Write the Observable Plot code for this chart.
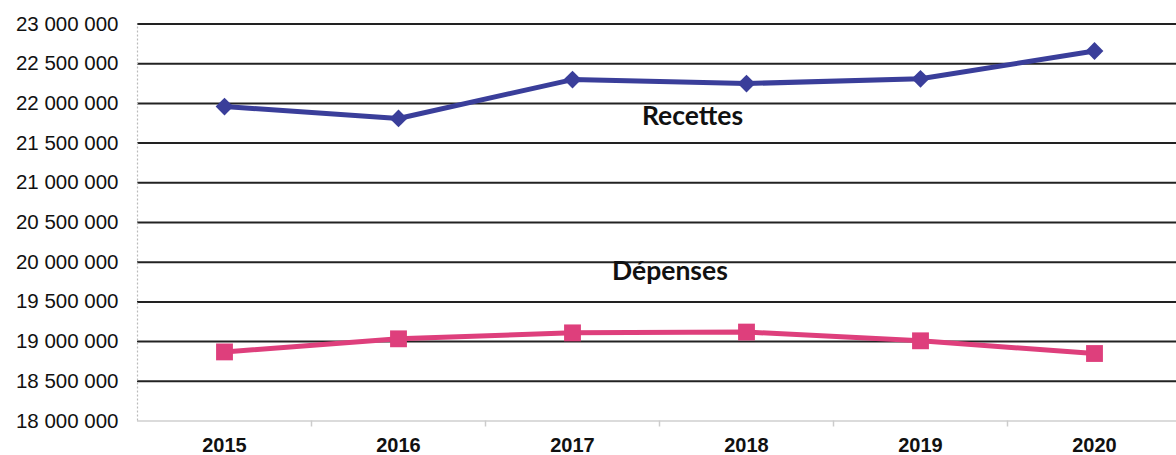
<!DOCTYPE html>
<html>
<head>
<meta charset="utf-8">
<script src="https://cdn.jsdelivr.net/npm/d3@7"></script>
<script src="https://cdn.jsdelivr.net/npm/@observablehq/plot@0.6"></script>
<style>
  html, body { margin: 0; padding: 0; background: #fff; }
  #chart svg { display: block; }
</style>
</head>
<body>
<div id="chart"></div>
<script>
const years = [2015, 2016, 2017, 2018, 2019, 2020];
const recettes = [21960000, 21810000, 22300000, 22250000, 22310000, 22660000];
const depenses = [18870000, 19035000, 19110000, 19120000, 19010000, 18850000];
const yTicks = [18000000, 18500000, 19000000, 19500000, 20000000, 20500000, 21000000, 21500000, 22000000, 22500000, 23000000];
const seriesLabels = [
  {name: "Recettes", year: 2017.69, value: 21835000},
  {name: "Dépenses", year: 2017.56, value: 19880000}
];
const boundaries = [2015.5, 2016.5, 2017.5, 2018.5, 2019.5];

const recData = years.map((y, i) => ({year: y, value: recettes[i]}));
const depData = years.map((y, i) => ({year: y, value: depenses[i]}));

const fmt = d => d3.format(",")(d).replace(/,/g, " ");

const chart = Plot.plot({
  width: 1176,
  height: 455,
  marginLeft: 137,
  marginRight: 0,
  marginTop: 23.5,
  marginBottom: 34.5,
  style: {background: "#fff", fontFamily: "'Liberation Sans', Arial, sans-serif"},
  x: {domain: [2014.5, 2020.5], range: [137, 1181], label: null},
  y: {domain: [18000000, 23000000], label: null},
  marks: [
    Plot.ruleY(yTicks.filter(d => d > 18000000), {stroke: "#222", strokeWidth: 2}),
    Plot.ruleY([18000000], {stroke: "#cfcfcf", strokeWidth: 1.5}),
    Plot.ruleX([2014.5], {y1: 18000000, y2: 23000000, stroke: "#bbb", strokeWidth: 1.2, strokeDasharray: "2,2"}),
    Plot.ruleX(boundaries, {x: d => d, y1: 18000000, y2: 18000000, insetBottom: -6, stroke: "#ccc", strokeWidth: 1.5}),
    Plot.line(recData, {x: "year", y: "value", stroke: "#3a3e9a", strokeWidth: 5}),
    Plot.dot(recData, {x: "year", y: "value", symbol: "diamond2", r: 8, fill: "#3a3e9a", stroke: "none"}),
    Plot.line(depData, {x: "year", y: "value", stroke: "#de3f7c", strokeWidth: 5}),
    Plot.dot(depData, {x: "year", y: "value", symbol: "square", r: 9.5, fill: "#de3f7c", stroke: "none"}),
    Plot.text(seriesLabels, {x: "year", y: "value", text: "name", fontSize: 26.5, fontWeight: "bold", fill: "#111", fontFamily: "Lato, 'Open Sans', sans-serif"}),
    Plot.axisY(yTicks, {tickSize: 0, tickPadding: 19, tickFormat: fmt, fontSize: 20.5, fill: "#111", label: null}),
    Plot.axisX(years, {tickSize: 0, tickPadding: 17, tickFormat: d => String(d), fontSize: 20, fontWeight: "bold", fill: "#111", label: null})
  ]
});
document.getElementById("chart").appendChild(chart);
</script>
</body>
</html>
